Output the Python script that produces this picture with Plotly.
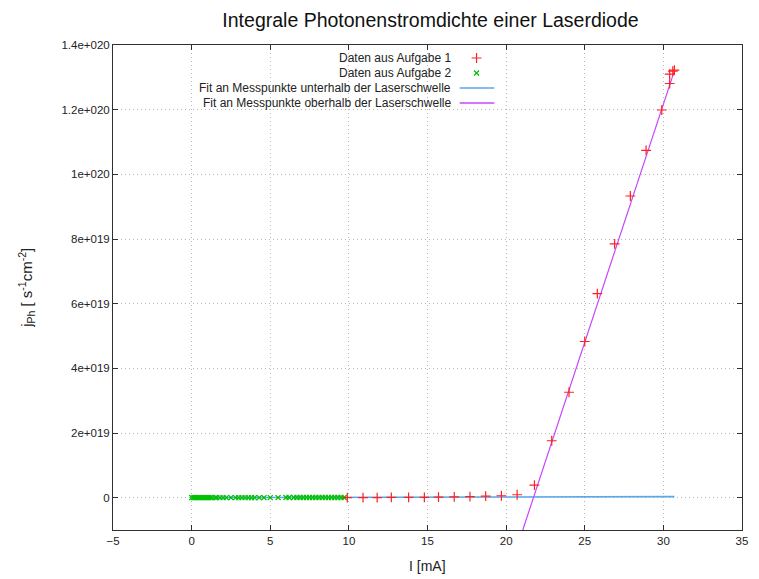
import plotly.graph_objects as go

# ---------------- data ----------------
# Aufgabe 1 (red +)
a1_current = [9.9, 10.9, 11.8, 12.7, 13.8, 14.8, 15.7, 16.7, 17.7, 18.7, 19.7, 20.7,
              21.8, 22.9, 24.0, 25.0, 25.8, 26.9, 27.9, 28.9, 29.9, 30.4, 30.4, 30.6, 30.7]
a1_density = [0.2e17, 0.3e17, 0.4e17, 0.6e17, 0.8e17, 1.0e17, 1.5e17, 2.5e17, 3.5e17,
              4.5e17, 6.0e17, 9.0e17, 3.9e18, 1.76e19, 3.26e19, 4.83e19, 6.31e19,
              7.85e19, 9.33e19, 1.074e20, 1.199e20, 1.281e20, 1.31e20, 1.319e20, 1.322e20]

# Aufgabe 2 (green x)
a2_current = [0.0, 0.1, 0.2, 0.3, 0.4, 0.5, 0.6, 0.7, 0.8, 0.9, 1.0, 1.1, 1.2, 1.3, 1.5,
              1.6, 1.8, 2.0, 2.2, 2.5, 2.8, 3.0, 3.2, 3.4, 3.6, 3.8, 4.0, 4.3, 4.6, 5.0,
              5.5, 6.0, 6.2, 6.5, 6.7, 6.9, 7.1, 7.3, 7.5, 7.7, 7.9, 8.1, 8.3, 8.5, 8.7,
              8.9, 9.1, 9.3, 9.5, 9.7]
a2_density = [1e15, 1e15, 2e15, 2e15, 3e15, 3e15, 4e15, 4e15, 5e15, 5e15, 6e15, 6e15,
              7e15, 7e15, 8e15, 8e15, 9e15, 1e16, 1.1e16, 1.2e16, 1.3e16, 1.4e16, 1.5e16,
              1.6e16, 1.7e16, 1.8e16, 1.9e16, 2.0e16, 2.1e16, 2.2e16, 2.4e16, 2.6e16,
              2.7e16, 2.8e16, 2.9e16, 3.0e16, 3.1e16, 3.2e16, 3.3e16, 3.4e16, 3.5e16,
              3.6e16, 3.7e16, 3.8e16, 3.9e16, 4.0e16, 4.1e16, 4.2e16, 4.3e16, 4.4e16]

# linear fits  j = slope * I + intercept
fit_below_slope = 1.0e16
fit_below_intercept = 0.0
fit_below_range = [-0.1, 30.7]

fit_above_slope = 1.473e19
fit_above_intercept = -3.202e20
fit_above_imax = 30.7

x_ticks = [-5, 0, 5, 10, 15, 20, 25, 30, 35]
y_ticks = [0, 2e19, 4e19, 6e19, 8e19, 1e20, 1.2e20, 1.4e20]
y_tick_labels = ["0", "2e+019", "4e+019", "6e+019", "8e+019", "1e+020", "1.2e+020", "1.4e+020"]
x_range = [-5, 35]
y_range = [-1e19, 1.4e20]

legend_labels = ["Daten aus Aufgabe 1", "Daten aus Aufgabe 2",
                 "Fit an Messpunkte unterhalb der Laserschwelle",
                 "Fit an Messpunkte oberhalb der Laserschwelle"]

RED = "#ff2020"
GREEN = "#00c000"
BLUE = "#5ea6ea"
MAGENTA = "#c845ff"
FONT = "Liberation Sans, Arial, sans-serif"

# fit lines from parameters
fb_x = fit_below_range
fb_y = [fit_below_slope * x + fit_below_intercept for x in fb_x]
fa_start = (y_range[0] - fit_above_intercept) / fit_above_slope
fa_x = [fa_start, fit_above_imax]
fa_y = [fit_above_slope * x + fit_above_intercept for x in fa_x]

fig = go.Figure()
fig.add_trace(go.Scatter(x=fb_x, y=fb_y, mode="lines",
                         line=dict(color=BLUE, width=1.6), showlegend=False))
fig.add_trace(go.Scatter(x=fa_x, y=fa_y, mode="lines",
                         line=dict(color=MAGENTA, width=1.2), showlegend=False))
fig.add_trace(go.Scatter(x=a2_current, y=a2_density, mode="markers",
                         marker=dict(symbol="x-thin", size=5, line=dict(color=GREEN, width=1.3)),
                         showlegend=False))
fig.add_trace(go.Scatter(x=a1_current, y=a1_density, mode="markers",
                         marker=dict(symbol="cross-thin", size=7, line=dict(color=RED, width=1.2)),
                         showlegend=False))

# ---- gnuplot-style key (text right-aligned, sample on the right) ----
L, R, T, B = 113, 11, 45, 49
W, H = 759, 579
pw, ph = W - L - R, H - T - B
text_right = (456 - L) / pw
swatch_l, swatch_r = (463 - L) / pw, (498 - L) / pw
swatch_c = (480 - L) / pw
rows_px = [58, 73, 88, 103]
rows = [1 - (y - T) / ph for y in rows_px]

for lbl, ry in zip(legend_labels, rows):
    fig.add_annotation(x=text_right, y=ry, xref="paper", yref="paper", text=lbl,
                       showarrow=False, xanchor="right", yanchor="middle",
                       font=dict(family=FONT, size=12, color="#222222"))
fig.add_shape(type="line", xref="paper", yref="paper", x0=swatch_l, x1=swatch_r,
              y0=rows[2], y1=rows[2], line=dict(color=BLUE, width=1.6))
fig.add_shape(type="line", xref="paper", yref="paper", x0=swatch_l, x1=swatch_r,
              y0=rows[3], y1=rows[3], line=dict(color=MAGENTA, width=1.6))
fig.add_trace(go.Scatter(x=[swatch_c], y=[rows[0]], xaxis="x2", yaxis="y2", mode="markers",
                         marker=dict(symbol="cross-thin", size=7, line=dict(color=RED, width=1.2)),
                         showlegend=False, hoverinfo="skip"))
fig.add_trace(go.Scatter(x=[swatch_c], y=[rows[1]], xaxis="x2", yaxis="y2", mode="markers",
                         marker=dict(symbol="x-thin", size=5, line=dict(color=GREEN, width=1.3)),
                         showlegend=False, hoverinfo="skip"))

axis_common = dict(showline=True, linecolor="#303030", linewidth=1, mirror="ticks",
                   ticks="inside", ticklen=5, tickcolor="#303030",
                   showgrid=True, gridcolor="#b8b8b8", griddash="1px,3px", gridwidth=1,
                   zeroline=False, tickfont=dict(family=FONT, size=11.5, color="#222222"))

fig.update_layout(
    width=W, height=H,
    margin=dict(l=L, r=R, t=T, b=B),
    plot_bgcolor="white", paper_bgcolor="white",
    showlegend=False,
    title=dict(text="Integrale Photonenstromdichte einer Laserdiode", x=(L + pw / 2) / W,
               xanchor="center", y=1 - 20 / H, yanchor="middle",
               font=dict(family=FONT, size=19.5, color="#111111")),
    xaxis=dict(range=x_range, tickvals=x_ticks, **axis_common),
    yaxis=dict(range=y_range, tickvals=y_ticks, ticktext=y_tick_labels, **axis_common),
    xaxis2=dict(range=[0, 1], overlaying="x", visible=False, fixedrange=True),
    yaxis2=dict(range=[0, 1], overlaying="y", visible=False, fixedrange=True),
)
fig.add_annotation(x=0.5, y=-26 / ph, xref="paper", yref="paper", text="I [mA]",
                   showarrow=False, xanchor="center", yanchor="top",
                   font=dict(family=FONT, size=14, color="#222222"))
fig.add_annotation(x=-(113 - 25) / pw, y=1 - (288 - T) / ph, xref="paper", yref="paper",
                   text="j<sub>Ph</sub> [ s<sup>-1</sup>cm<sup>-2</sup>]", textangle=-90,
                   showarrow=False, xanchor="center", yanchor="middle",
                   font=dict(family=FONT, size=15, color="#222222"))

fig.write_html("out.html", config={"displayModeBar": False},
               post_script="document.body.style.margin='0';document.body.style.overflow='hidden';")
